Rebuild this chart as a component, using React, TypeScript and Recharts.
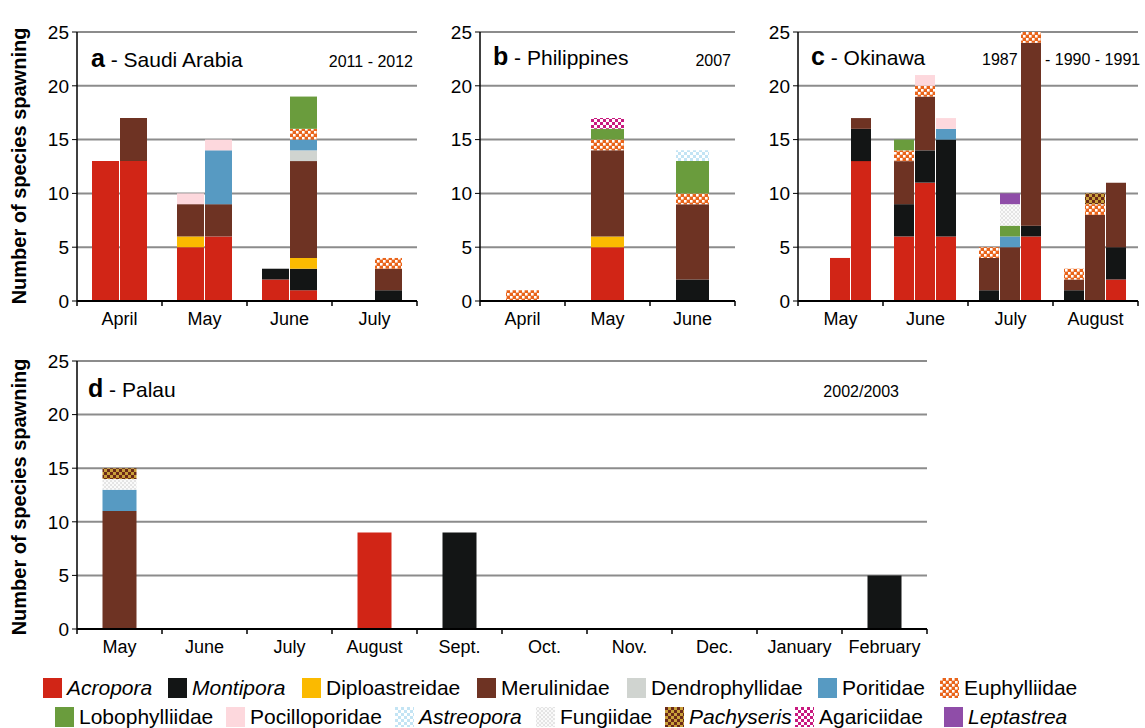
import React from "react";
import { BarChart, Bar, XAxis, YAxis, CartesianGrid } from "recharts";

type Row = [string, number[]];
type Series = { year: string; rows: Row[] };

// stacking order, bottom to top (also legend order)
const FAMILIES = [
  "Acropora",
  "Montipora",
  "Diploastreidae",
  "Merulinidae",
  "Dendrophyllidae",
  "Poritidae",
  "Euphylliidae",
  "Lobophylliidae",
  "Pocilloporidae",
  "Astreopora",
  "Fungiidae",
  "Pachyseris",
  "Agariciidae",
  "Leptastrea",
];
const ITALIC = ["Acropora", "Montipora", "Astreopora", "Pachyseris", "Leptastrea"];

const FILL: Record<string, string> = {
  Acropora: "#D12516",
  Montipora: "#131515",
  Diploastreidae: "#FBBA00",
  Merulinidae: "#6E3323",
  Dendrophyllidae: "#D0D4D0",
  Poritidae: "#579AC2",
  Euphylliidae: "url(#p-euph)",
  Lobophylliidae: "#6A9C3D",
  Pocilloporidae: "#FDD8DD",
  Astreopora: "url(#p-astr)",
  Fungiidae: "url(#p-fung)",
  Pachyseris: "url(#p-pach)",
  Agariciidae: "url(#p-agar)",
  Leptastrea: "#8F4DA8",
};

const Y_TICKS = [0, 5, 10, 15, 20, 25];

// a - Saudi Arabia
const saudiMonths = ["April", "May", "June", "July"];
const saudi2011: Row[] = [
  ["Acropora", [13, 5, 2, 0]],
  ["Montipora", [0, 0, 1, 0]],
  ["Diploastreidae", [0, 1, 0, 0]],
  ["Merulinidae", [0, 3, 0, 0]],
  ["Pocilloporidae", [0, 1, 0, 0]],
];
const saudi2012: Row[] = [
  ["Acropora", [13, 6, 1, 0]],
  ["Montipora", [0, 0, 2, 1]],
  ["Diploastreidae", [0, 0, 1, 0]],
  ["Merulinidae", [4, 3, 9, 2]],
  ["Dendrophyllidae", [0, 0, 1, 0]],
  ["Poritidae", [0, 5, 1, 0]],
  ["Euphylliidae", [0, 0, 1, 1]],
  ["Lobophylliidae", [0, 0, 3, 0]],
  ["Pocilloporidae", [0, 1, 0, 0]],
];

// b - Philippines
const philMonths = ["April", "May", "June"];
const phil2007: Row[] = [
  ["Acropora", [0, 5, 0]],
  ["Montipora", [0, 0, 2]],
  ["Diploastreidae", [0, 1, 0]],
  ["Merulinidae", [0, 8, 7]],
  ["Euphylliidae", [1, 1, 1]],
  ["Lobophylliidae", [0, 1, 3]],
  ["Astreopora", [0, 0, 1]],
  ["Agariciidae", [0, 1, 0]],
];

// c - Okinawa
const okiMonths = ["May", "June", "July", "August"];
const oki1987: Row[] = [
  ["Acropora", [0, 6, 0, 0]],
  ["Montipora", [0, 3, 1, 1]],
  ["Merulinidae", [0, 4, 3, 1]],
  ["Euphylliidae", [0, 1, 1, 1]],
  ["Lobophylliidae", [0, 1, 0, 0]],
];
const oki1990: Row[] = [
  ["Acropora", [4, 11, 0, 0]],
  ["Montipora", [0, 3, 0, 0]],
  ["Merulinidae", [0, 5, 5, 8]],
  ["Poritidae", [0, 0, 1, 0]],
  ["Euphylliidae", [0, 1, 0, 1]],
  ["Lobophylliidae", [0, 0, 1, 0]],
  ["Pocilloporidae", [0, 1, 0, 0]],
  ["Fungiidae", [0, 0, 2, 0]],
  ["Pachyseris", [0, 0, 0, 1]],
  ["Leptastrea", [0, 0, 1, 0]],
];
const oki1991: Row[] = [
  ["Acropora", [13, 6, 6, 2]],
  ["Montipora", [3, 9, 1, 3]],
  ["Merulinidae", [1, 0, 17, 6]],
  ["Poritidae", [0, 1, 0, 0]],
  ["Euphylliidae", [0, 0, 1, 0]],
  ["Pocilloporidae", [0, 1, 0, 0]],
];

// d - Palau
const palauMonths = ["May", "June", "July", "August", "Sept.", "Oct.", "Nov.", "Dec.", "January", "February"];
const palau0203: Row[] = [
  ["Acropora", [0, 0, 0, 9, 0, 0, 0, 0, 0, 0]],
  ["Montipora", [0, 0, 0, 0, 9, 0, 0, 0, 0, 5]],
  ["Merulinidae", [11, 0, 0, 0, 0, 0, 0, 0, 0, 0]],
  ["Poritidae", [2, 0, 0, 0, 0, 0, 0, 0, 0, 0]],
  ["Fungiidae", [1, 0, 0, 0, 0, 0, 0, 0, 0, 0]],
  ["Pachyseris", [1, 0, 0, 0, 0, 0, 0, 0, 0, 0]],
];

const LEGEND_ROW1 = ["Acropora", "Montipora", "Diploastreidae", "Merulinidae", "Dendrophyllidae", "Poritidae", "Euphylliidae"];
const LEGEND_ROW2 = ["Lobophylliidae", "Pocilloporidae", "Astreopora", "Fungiidae", "Pachyseris", "Agariciidae", "Leptastrea"];
const ROW1_X = [43, 168, 302, 477, 627, 818, 940];
const ROW2_X = [55, 226, 395, 536, 665, 795, 944];

const BAND = 85;
const FONT = '"Liberation Sans", Arial, Helvetica, sans-serif';

function Panel({
  months,
  series,
  plotLeft,
  plotTop,
  plotH,
  catGap,
}: {
  months: string[];
  series: Series[];
  plotLeft: number;
  plotTop: number;
  plotH: number;
  catGap: number;
}) {
  const plotW = months.length * BAND;
  const data = months.map((m, i) => {
    const d: Record<string, string | number> = { month: m };
    series.forEach((s) => s.rows.forEach(([f, v]) => (d[`${s.year}|${f}`] = v[i])));
    return d;
  });
  const last = months[months.length - 1];

  const renderTick = (p: any) => {
    const { x, y, payload } = p;
    return (
      <g>
        <line x1={x - BAND / 2} x2={x - BAND / 2} y1={y} y2={y + 5} stroke="#000" strokeWidth={1.5} />
        {payload.value === last && (
          <line x1={x + BAND / 2} x2={x + BAND / 2} y1={y} y2={y + 5} stroke="#000" strokeWidth={1.5} />
        )}
        <text x={x} y={y + 24} textAnchor="middle" fontSize={18} fill="#000">
          {payload.value}
        </text>
      </g>
    );
  };

  return (
    <div style={{ position: "absolute", left: plotLeft - 60, top: plotTop - 12 }}>
      <BarChart
        width={60 + plotW + 12}
        height={12 + plotH + 40}
        data={data}
        margin={{ top: 12, right: 12, bottom: 10, left: 0 }}
        barCategoryGap={catGap}
        barGap={1}
      >
        <CartesianGrid vertical={false} stroke="#8C8C8C" strokeWidth={2} />
        <XAxis
          dataKey="month"
          interval={0}
          height={30}
          tickLine={false}
          tickSize={0}
          tickMargin={0}
          axisLine={{ stroke: "#000", strokeWidth: 2 }}
          tick={renderTick}
        />
        <YAxis
          type="number"
          domain={[0, 25]}
          ticks={Y_TICKS}
          interval={0}
          width={60}
          tickSize={5}
          tickMargin={3}
          axisLine={{ stroke: "#000", strokeWidth: 1.5 }}
          tickLine={{ stroke: "#000" }}
          tick={{ fontSize: 19, fill: "#000" }}
        />
        {series.flatMap((s) =>
          FAMILIES.filter((f) => s.rows.some((r) => r[0] === f)).map((f) => (
            <Bar
              key={`${s.year}|${f}`}
              dataKey={`${s.year}|${f}`}
              stackId={s.year}
              fill={FILL[f]}
              isAnimationActive={false}
            />
          ))
        )}
      </BarChart>
    </div>
  );
}

function Swatch({ family }: { family: string }) {
  return (
    <svg width={19} height={20} style={{ display: "block" }}>
      <rect width={19} height={20} fill={FILL[family]} />
    </svg>
  );
}

function LegendRow({ names, xs, top }: { names: string[]; xs: number[]; top: number }) {
  return (
    <>
      {names.map((n, i) => (
        <div
          key={n}
          style={{ position: "absolute", left: xs[i], top, display: "flex", alignItems: "center", height: 22 }}
        >
          <Swatch family={n} />
          <span
            style={{
              marginLeft: 5,
              fontSize: 21,
              lineHeight: "22px",
              fontStyle: ITALIC.includes(n) ? "italic" : "normal",
              whiteSpace: "nowrap",
            }}
          >
            {n}
          </span>
        </div>
      ))}
    </>
  );
}

function Title({ x, y, letter, name }: { x: number; y: number; letter: string; name: string }) {
  return (
    <text x={x} y={y} style={{ whiteSpace: "pre" }}>
      <tspan fontWeight="bold" fontSize={25}>
        {letter}
      </tspan>
      <tspan fontSize={21}>{` - ${name}`}</tspan>
    </text>
  );
}

export default function App() {
  return (
    <div style={{ position: "relative", width: 1145, height: 728, fontFamily: FONT, color: "#000", background: "#fff" }}>
      <style>{"body{margin:0}"}</style>
      <svg width={0} height={0} style={{ position: "absolute" }}>
        <defs>
          <pattern id="p-euph" width={6} height={6} patternUnits="userSpaceOnUse">
            <rect width={6} height={6} fill="#E9641A" />
            <rect width={2.6} height={2.6} fill="#fff" />
            <rect x={3} y={3} width={2.6} height={2.6} fill="#fff" />
          </pattern>
          <pattern id="p-astr" width={6} height={6} patternUnits="userSpaceOnUse">
            <rect width={6} height={6} fill="#fff" />
            <rect width={3} height={3} fill="#C3E4F4" />
            <rect x={3} y={3} width={3} height={3} fill="#C3E4F4" />
          </pattern>
          <pattern id="p-fung" width={4} height={4} patternUnits="userSpaceOnUse">
            <rect width={4} height={4} fill="#fff" />
            <circle cx={2} cy={2} r={1.6} fill="none" stroke="#C8C8C8" strokeWidth={0.5} />
          </pattern>
          <pattern id="p-pach" width={6} height={6} patternUnits="userSpaceOnUse">
            <rect width={6} height={6} fill="#C9A03A" />
            <rect width={3} height={3} fill="#6B2A18" />
            <rect x={3} y={3} width={3} height={3} fill="#6B2A18" />
          </pattern>
          <pattern id="p-agar" width={6} height={6} patternUnits="userSpaceOnUse">
            <rect width={6} height={6} fill="#fff" />
            <rect width={3} height={3} fill="#C8197F" />
            <rect x={3} y={3} width={3} height={3} fill="#C8197F" />
          </pattern>
        </defs>
      </svg>

      <Panel
        months={saudiMonths}
        series={[
          { year: "2011", rows: saudi2011 },
          { year: "2012", rows: saudi2012 },
        ]}
        plotLeft={77}
        plotTop={32}
        plotH={269}
        catGap={15}
      />
      <Panel
        months={philMonths}
        series={[{ year: "2007", rows: phil2007 }]}
        plotLeft={480}
        plotTop={32}
        plotH={269}
        catGap={26}
      />
      <Panel
        months={okiMonths}
        series={[
          { year: "1987", rows: oki1987 },
          { year: "1990", rows: oki1990 },
          { year: "1991", rows: oki1991 },
        ]}
        plotLeft={798}
        plotTop={32}
        plotH={269}
        catGap={11}
      />
      <Panel
        months={palauMonths}
        series={[{ year: "2002/2003", rows: palau0203 }]}
        plotLeft={77}
        plotTop={361}
        plotH={268}
        catGap={25.5}
      />

      <svg
        width={1145}
        height={728}
        style={{ position: "absolute", left: 0, top: 0, pointerEvents: "none", fontFamily: FONT }}
      >
        <Title x={91} y={66.5} letter="a" name="Saudi Arabia" />
        <Title x={493} y={65} letter="b" name="Philippines" />
        <Title x={811} y={65} letter="c" name="Okinawa" />
        <Title x={88} y={397} letter="d" name="Palau" />
        <text x={413} y={66.5} fontSize={16} textAnchor="end">2011 - 2012</text>
        <text x={731} y={65.5} fontSize={16} textAnchor="end">2007</text>
        <text x={982} y={65} fontSize={16}>1987</text>
        <text x={1045} y={65} fontSize={16} style={{ whiteSpace: "pre" }}>- 1990 - 1991</text>
        <text x={899} y={397} fontSize={16} textAnchor="end">2002/2003</text>
        <text transform="translate(26,166) rotate(-90)" textAnchor="middle" fontSize={20} fontWeight="bold">
          Number of species spawning
        </text>
        <text transform="translate(26,497) rotate(-90)" textAnchor="middle" fontSize={20} fontWeight="bold">
          Number of species spawning
        </text>
      </svg>

      <LegendRow names={LEGEND_ROW1} xs={ROW1_X} top={677} />
      <LegendRow names={LEGEND_ROW2} xs={ROW2_X} top={706} />
    </div>
  );
}
